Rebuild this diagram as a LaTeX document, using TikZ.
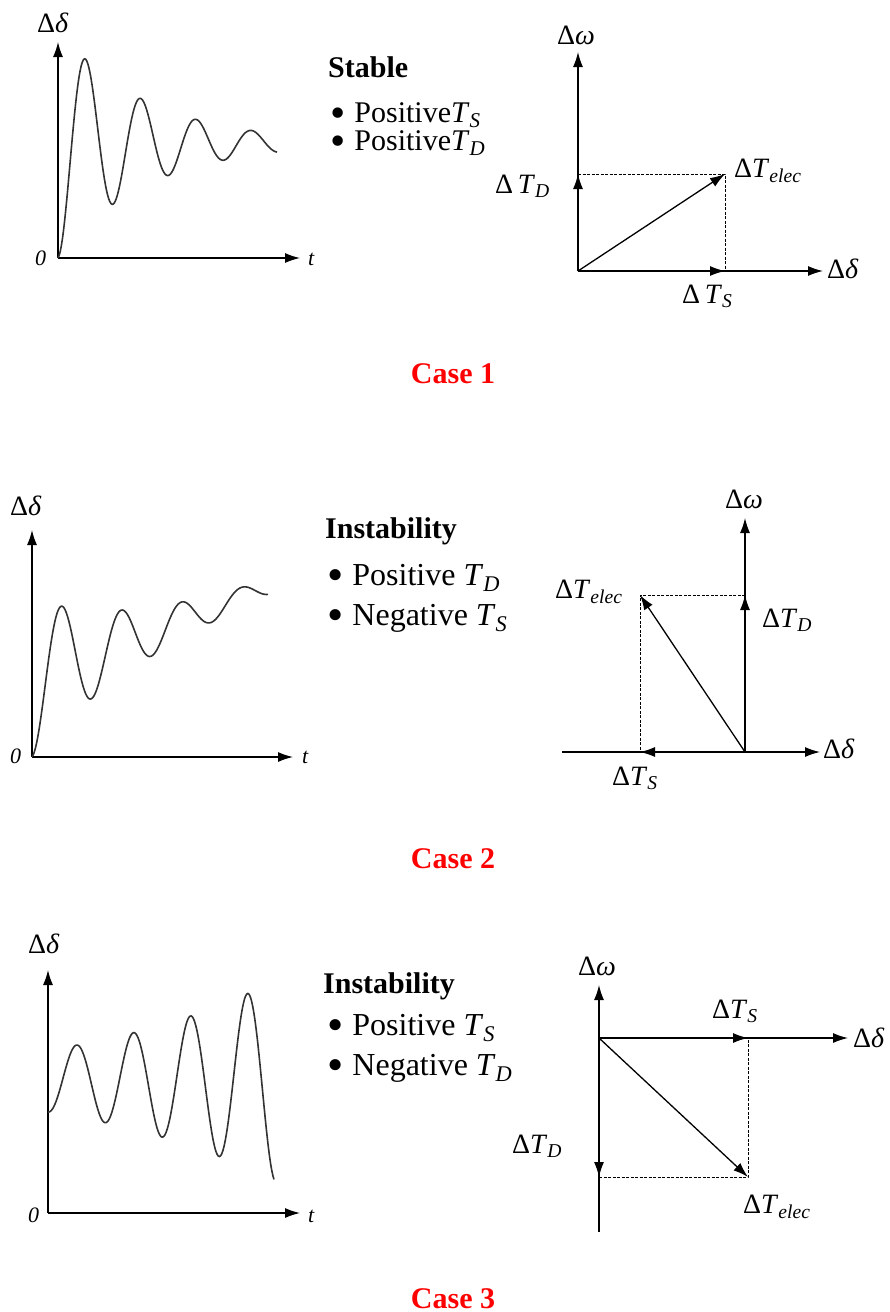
\documentclass[tikz,border=0pt]{standalone}
\usepackage{fontspec}
\setmainfont{Liberation Serif}
\usetikzlibrary{arrows.meta}

\newcommand{\dlt}{Δ\textit{δ}}
\newcommand{\omg}{Δ\textit{ω}}
\newcommand{\tq}[1]{\textit{T}\textsubscript{\textit{#1}}}
\newcommand{\bull}{\raisebox{-5pt}[0pt][0pt]{\scalebox{1.45}{\textbullet}}\hspace{9pt}}

\begin{document}
\begin{tikzpicture}[
    x=1pt, y=-1pt,
    axis/.style={line width=1.3pt, -{Latex[length=15pt,width=10pt]}},
    vec/.style={line width=1.3pt, -{Latex[length=15pt,width=10pt]}},
    proj/.style={line width=0.9pt, dash pattern=on 3pt off 1.5pt},
    wave/.style={line width=1.6pt, black!80},
    lbl/.style={inner sep=0pt, anchor=base west, font=\fontsize{28}{32}\selectfont},
    num/.style={inner sep=0pt, anchor=base west, font=\fontsize{22}{24}\selectfont\itshape},
    note/.style={inner sep=0pt, anchor=base west, font=\fontsize{30}{34}\selectfont},
    bignote/.style={inner sep=0pt, anchor=base west, font=\fontsize{32}{36}\selectfont},
    title/.style={inner sep=0pt, anchor=base west, font=\fontsize{30}{34}\selectfont\bfseries},
    case/.style={inner sep=0pt, anchor=base, text=red, font=\fontsize{30}{34}\selectfont\bfseries}
]
    \useasboundingbox (0,0) rectangle (890,1312);

    % Case 1: time response
    \coordinate (o1) at (58,258);
    \coordinate (y1) at (58,42);
    \coordinate (x1) at (300,258);
    \draw [axis] (o1) -- (y1);
    \draw [axis] (o1) -- (x1);
    \node (d1) [lbl] at (37,32) {\dlt};
    \node (z1) [num] at (35,265) {0};
    \node (t1) [num] at (308,265) {t};
    \draw [wave] plot[domain=0:219, samples=200] ({58+\x}, {258-115*(1-exp(-0.01146*\x)*cos(6.51*\x))});

    % Case 1: text
    \node (c1title) [title] at (328,77) {Stable};
    \node (c1a) [note] at (330,122) {\bull Positive\tq{S}};
    \node (c1b) [note] at (330,150) {\bull Positive\tq{D}};

    % Case 1: phasor diagram
    \coordinate (p1) at (578,271);
    \coordinate (w1) at (578,52);
    \coordinate (e1) at (823,271);
    \coordinate (s1) at (725,271);
    \coordinate (k1) at (578,174);
    \coordinate (q1) at (725,174);
    \draw [axis] (p1) -- (w1);
    \draw [axis] (p1) -- (e1);
    \draw [proj] (k1) -- (q1) -- (s1);
    \draw [vec] (p1) -- (s1);
    \draw [vec] (p1) -- (k1);
    \draw [vec] (p1) -- (q1);
    \node (w1l) [lbl] at (557,44) {\omg};
    \node (e1l) [lbl] at (827,278) {\dlt};
    \node (q1l) [lbl] at (734,177) {Δ\tq{elec}};
    \node (k1l) [lbl] at (495,193) {Δ\,\tq{D}};
    \node (s1l) [lbl] at (682,303) {Δ\,\tq{S}};

    \node (case1) [case] at (453,383) {Case 1};

    % Case 2: time response
    \coordinate (o2) at (32,757);
    \coordinate (y2) at (32,530);
    \coordinate (x2) at (293,757);
    \draw [axis] (o2) -- (y2);
    \draw [axis] (o2) -- (x2);
    \node (d2) [lbl] at (10,515) {\dlt};
    \node (z2) [num] at (10,763) {0};
    \node (t2) [num] at (302,763) {t};
    \draw [wave] plot[domain=0:236, samples=200] ({32+\x}, {757-(80+0.38*\x-80*exp(-0.0099*\x)*cos(6*\x))});

    % Case 2: text
    \node (c2title) [title] at (325,538) {Instability};
    \node (c2a) [bignote] at (327,585) {\bull Positive \tq{D}};
    \node (c2b) [bignote] at (327,625) {\bull Negative \tq{S}};

    % Case 2: phasor diagram
    \coordinate (p2) at (745,752);
    \coordinate (w2) at (745,518);
    \coordinate (e2) at (820,752);
    \coordinate (n2) at (562,752);
    \coordinate (s2) at (640,752);
    \coordinate (k2) at (745,595);
    \coordinate (q2) at (640,595);
    \draw [axis] (p2) -- (w2);
    \draw [axis] (n2) -- (e2);
    \draw [proj] (k2) -- (q2) -- (s2);
    \draw [vec] (p2) -- (s2);
    \draw [vec] (p2) -- (k2);
    \draw [vec] (p2) -- (q2);
    \node (w2l) [lbl] at (725,508) {\omg};
    \node (e2l) [lbl] at (823,758) {\dlt};
    \node (q2l) [lbl] at (555,598) {Δ\tq{elec}};
    \node (k2l) [lbl] at (762,627) {Δ\tq{D}};
    \node (s2l) [lbl] at (612,785) {Δ\tq{S}};

    \node (case2) [case] at (453,868) {Case 2};

    % Case 3: time response
    \coordinate (o3) at (48,1213);
    \coordinate (y3) at (48,970);
    \coordinate (x3) at (300,1213);
    \draw [axis] (o3) -- (y3);
    \draw [axis] (o3) -- (x3);
    \node (d3) [lbl] at (28,953) {\dlt};
    \node (z3) [num] at (28,1222) {0};
    \node (t3) [num] at (308,1222) {t};
    \draw [wave] plot[domain=0:226, samples=200] ({48+\x}, {1213-(132-31*exp(0.0052*\x)*cos(6.32*\x))});

    % Case 3: text
    \node (c3title) [title] at (323,993) {Instability};
    \node (c3a) [bignote] at (327,1035) {\bull Positive \tq{S}};
    \node (c3b) [bignote] at (327,1075) {\bull Negative \tq{D}};

    % Case 3: phasor diagram
    \coordinate (p3) at (599,1038);
    \coordinate (w3) at (599,985);
    \coordinate (m3) at (599,1232);
    \coordinate (e3) at (848,1038);
    \coordinate (s3) at (748,1038);
    \coordinate (k3) at (599,1177);
    \coordinate (q3) at (748,1177);
    \draw [axis] (m3) -- (w3);
    \draw [axis] (p3) -- (e3);
    \draw [proj] (k3) -- (q3) -- (s3);
    \draw [vec] (p3) -- (s3);
    \draw [vec] (p3) -- (k3);
    \draw [vec] (p3) -- (q3);
    \node (w3l) [lbl] at (578,975) {\omg};
    \node (e3l) [lbl] at (853,1047) {\dlt};
    \node (s3l) [lbl] at (712,1018) {Δ\tq{S}};
    \node (k3l) [lbl] at (512,1153) {Δ\tq{D}};
    \node (q3l) [lbl] at (743,1213) {Δ\tq{elec}};

    \node (case3) [case] at (453,1308) {Case 3};

\end{tikzpicture}
\end{document}
